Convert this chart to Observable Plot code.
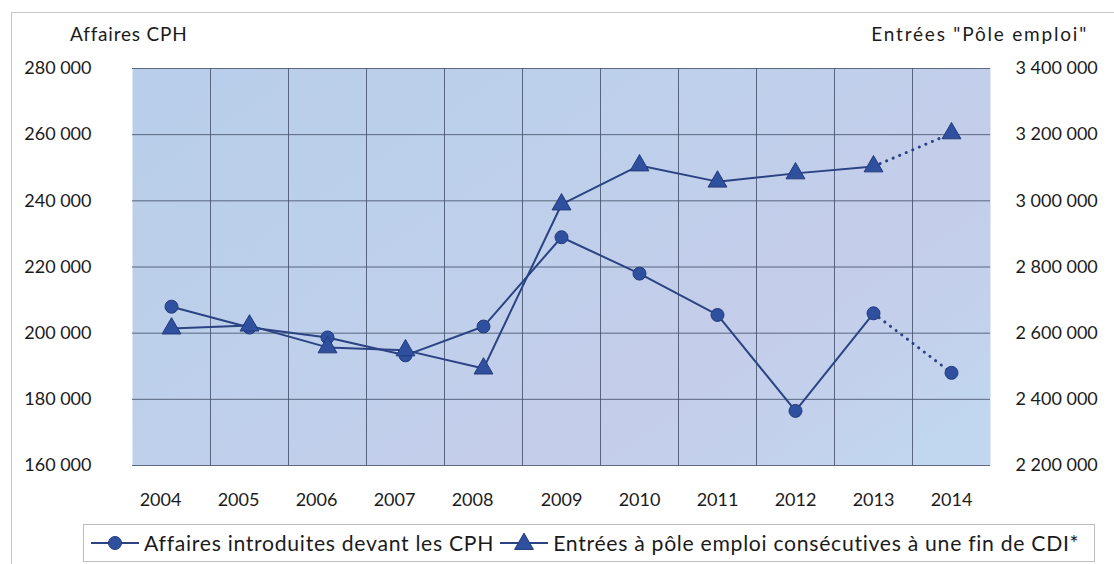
<!DOCTYPE html>
<html>
<head>
<meta charset="utf-8">
<script src="https://cdn.jsdelivr.net/npm/d3@7"></script>
<script src="https://cdn.jsdelivr.net/npm/@observablehq/plot@0.6"></script>
<style>
  body { margin: 0; background: #fff; }
  #wrap { position: relative; width: 1114px; height: 564px; overflow: hidden;
          font-family: Lato, "Open Sans", sans-serif; color: #1b1b1b; background: #fff; }
  #frame { position: absolute; left: 11px; top: 12px; width: 1110px; height: 600px;
           border: 1px solid #c6c6c6; box-sizing: border-box; }
  #chart { position: absolute; left: 0; top: 0; }
  .title { position: absolute; top: 24px; font-size: 19px; line-height: 20px; white-space: nowrap; }
  #legend { position: absolute; left: 83px; top: 524px; width: 1012px; height: 38px;
            border: 1px solid #bdbdbd; box-sizing: border-box; background: #fff; overflow: hidden;
            display: flex; align-items: center; font-size: 21.2px; letter-spacing: 0.7px; white-space: nowrap; }
  #legend .item { display: flex; align-items: center; flex: none; }
  #legend svg { display: block; }
</style>
</head>
<body>
<div id="wrap">
  <div id="frame"></div>
  <div id="chart"></div>
  <div class="title" style="left:70px; letter-spacing:0.8px">Affaires CPH</div>
  <div class="title" style="right:26px; letter-spacing:1.8px">Entrées "Pôle emploi"</div>
  <div id="legend"></div>
</div>
<script>
// ---- data ----
const years = [2004, 2005, 2006, 2007, 2008, 2009, 2010, 2011, 2012, 2013, 2014];
const affairesCPH = [208000, 201700, 198700, 193300, 202000, 229000, 218000, 205500, 176500, 206000, 188000];
const entreesPoleEmploi = [2614000, 2623000, 2557000, 2548000, 2493000, 2989000, 3107000, 3058000, 3083000, 3104000, 3204000];
const leftTicks = [160000, 180000, 200000, 220000, 240000, 260000, 280000];
const rightTicks = [2200000, 2400000, 2600000, 2800000, 3000000, 3200000, 3400000];
const seriesNames = ["Affaires introduites devant les CPH", "Entrées à pôle emploi consécutives à une fin de CDI*"];
const lastActualYear = 2013;

// ---- styles ----
const lineColor = "#2c4383";
const markFill = "#2f4f9f";
const markStroke = "#233b7a";
const gridColor = "#46526c";

const W = 1114, H = 564, mL = 132, mR = 124, mT = 68, mB = 99;
const bw = (W - mL - mR) / years.length;

const toLeft = d3.scaleLinear([rightTicks[0], rightTicks[rightTicks.length - 1]],
                              [leftTicks[0], leftTicks[leftTicks.length - 1]]);
const data = years.map((year, i) => ({year: String(year), y: year, cph: affairesCPH[i], pole: toLeft(entreesPoleEmploi[i])}));
const fr = d3.formatLocale({decimal: ",", thousands: "\u00a0", grouping: [3], currency: ["", " €"]});
const fmt = fr.format(",d");

const solid = data.filter(d => d.y <= lastActualYear);
const dotted = data.filter(d => d.y >= lastActualYear);
const dash = {strokeDasharray: "0.1,7", strokeLinecap: "round", strokeWidth: 3};

const chart = Plot.plot({
  width: W, height: H,
  marginLeft: mL, marginRight: mR, marginTop: mT, marginBottom: mB,
  style: {fontFamily: "Lato, 'Open Sans', sans-serif", fontSize: "18px", color: "#1b1b1b", background: "transparent", overflow: "visible"},
  x: {type: "band", domain: years.map(String), padding: 0, axis: null, label: null},
  y: {domain: [leftTicks[0], leftTicks[leftTicks.length - 1]], axis: null, label: null},
  marks: [
    Plot.frame({fill: "url(#bgGrad)", stroke: "none"}),
    Plot.ruleX(years.slice(1).map(String), {stroke: gridColor, strokeWidth: 1, dx: -bw / 2, strokeOpacity: 0.85}),
    Plot.ruleY(leftTicks, {stroke: gridColor, strokeWidth: 1, strokeOpacity: 0.85}),
    Plot.axisX(years.slice(0, 5).map(String), {tickSize: 0, tickPadding: 28, dx: -11, label: null}),
    Plot.axisX(years.slice(5).map(String), {tickSize: 0, tickPadding: 28, label: null}),
    Plot.axisY(leftTicks, {anchor: "left", tickSize: 0, tickPadding: 41, tickFormat: fmt, label: null}),
    Plot.axisY(rightTicks.map(toLeft), {anchor: "right", tickSize: 0, tickPadding: 25,
      tickFormat: d => fmt(Math.round(toLeft.invert(d) / 1000) * 1000), label: null}),
    Plot.line(solid, {x: "year", y: "cph", stroke: lineColor, strokeWidth: 2}),
    Plot.line(dotted, {x: "year", y: "cph", stroke: lineColor, ...dash}),
    Plot.line(solid, {x: "year", y: "pole", stroke: lineColor, strokeWidth: 2}),
    Plot.line(dotted, {x: "year", y: "pole", stroke: lineColor, ...dash}),
    Plot.dot(data, {x: "year", y: "cph", r: 6.5, fill: markFill, stroke: markStroke, strokeWidth: 1}),
    Plot.dot(data, {x: "year", y: "pole", symbol: "triangle", r: 7, fill: markFill, stroke: markStroke, strokeWidth: 1})
  ]
});

// gradient for plot area background
const ns = "http://www.w3.org/2000/svg";
const defs = document.createElementNS(ns, "defs");
defs.innerHTML = `<linearGradient id="bgGrad" x1="0" y1="0.15" x2="1" y2="0.85">
  <stop offset="0" stop-color="#b9ceea"/>
  <stop offset="0.4" stop-color="#bed0eb"/>
  <stop offset="0.7" stop-color="#c4cdea"/>
  <stop offset="0.88" stop-color="#c3d1ec"/>
  <stop offset="1" stop-color="#c1d6ef"/>
</linearGradient>`;
chart.insertBefore(defs, chart.firstChild);
document.getElementById("chart").appendChild(chart);

// legend
const legend = d3.select("#legend");
function item(name, symbol, marginLeft) {
  const it = legend.append("div").attr("class", "item").style("margin-left", marginLeft + "px");
  const s = it.append("svg").attr("width", 52).attr("height", 20);
  s.append("line").attr("x1", 2).attr("x2", 50).attr("y1", 10).attr("y2", 10)
    .attr("stroke", lineColor).attr("stroke-width", 2);
  if (symbol === "circle") {
    s.append("circle").attr("cx", 26).attr("cy", 10).attr("r", 6.5).attr("fill", markFill).attr("stroke", markStroke);
  } else {
    s.append("path").attr("transform", "translate(26,11)")
      .attr("d", d3.symbol(d3.symbolTriangle, Math.PI * 49)()).attr("fill", markFill).attr("stroke", markStroke);
  }
  it.append("span").style("margin-left", "3px").text(name);
}
item(seriesNames[0], "circle", 5);
item(seriesNames[1], "triangle", 4);
</script>
</body>
</html>
